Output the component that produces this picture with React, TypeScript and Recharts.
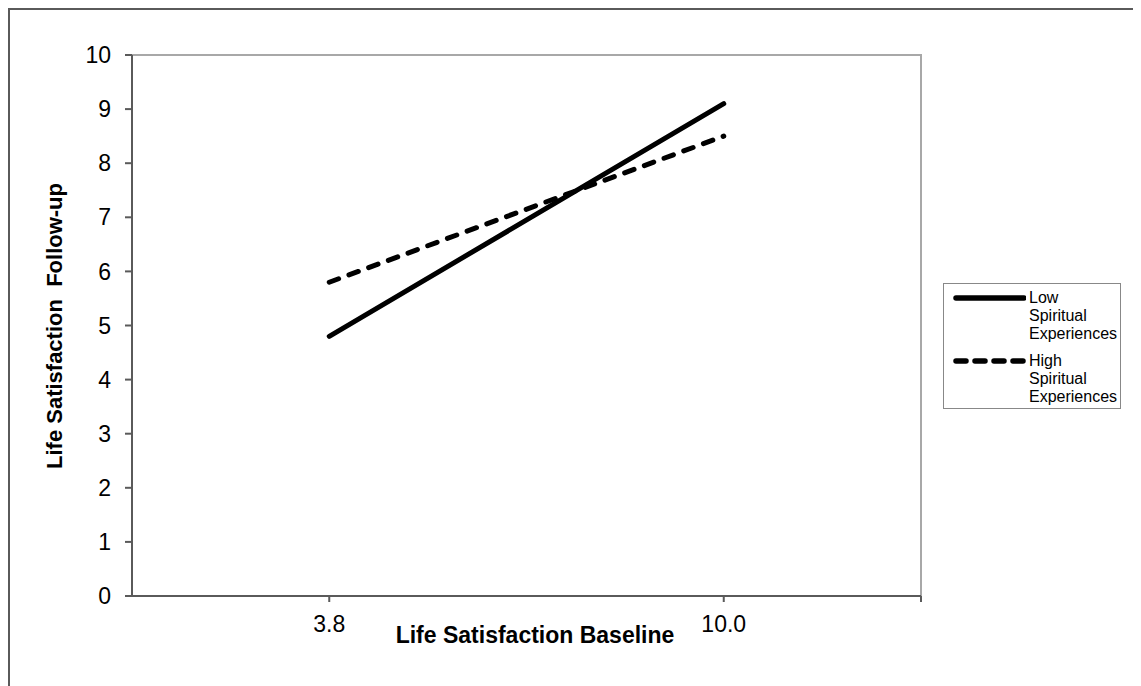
import { LineChart, Line, XAxis, YAxis, ReferenceArea } from "recharts";

const baseline = [3.8, 10.0];
const lowSpiritual = [4.8, 9.1];
const highSpiritual = [5.8, 8.5];
const yTicks = [0, 1, 2, 3, 4, 5, 6, 7, 8, 9, 10];
const xMin = 0.7;
const xMax = 13.1;

const data = baseline.map((b, i) => ({
  baseline: b,
  low: lowSpiritual[i],
  high: highSpiritual[i],
}));

const font = '"Liberation Sans", Arial, sans-serif';

function LegendBox() {
  const row = (dashed: boolean, lines: string[]) => (
    <div style={{ display: "flex", alignItems: "flex-start" }}>
      <svg width={80} height={18} style={{ flex: "none" }}>
        <line
          x1={10}
          y1={9}
          x2={78}
          y2={9}
          stroke="#000"
          strokeWidth={5.5}
          strokeLinecap="round"
          strokeDasharray={dashed ? "10 9" : undefined}
        />
      </svg>
      <div style={{ fontSize: 16, lineHeight: "18px", marginLeft: 3 }}>
        {lines.map((l) => (
          <div key={l}>{l}</div>
        ))}
      </div>
    </div>
  );
  return (
    <div
      style={{
        position: "absolute",
        left: 935,
        top: 275,
        width: 178,
        height: 126,
        border: "1px solid #888",
        boxSizing: "border-box",
        background: "#fff",
        fontFamily: font,
        paddingTop: 5,
        paddingLeft: 2,
      }}
    >
      {row(false, ["Low", "Spiritual", "Experiences"])}
      <div style={{ height: 9 }} />
      {row(true, ["High", "Spiritual", "Experiences"])}
    </div>
  );
}

export default function App() {
  return (
    <div
      style={{
        position: "relative",
        width: 1133,
        height: 678,
        fontFamily: font,
      }}
    >
      <div style={{ position: "absolute", left: 2, top: 0 }}>
        <LineChart
          width={1120}
          height={670}
          data={data}
          margin={{ top: 47, right: 209, bottom: 42, left: 22 }}
        >
          <ReferenceArea
            x1={xMin}
            x2={xMax}
            y1={0}
            y2={10}
            fill="none"
            stroke="#a8a8a8"
            strokeWidth={2}
          />
          <XAxis
            type="number"
            dataKey="baseline"
            domain={[xMin, xMax]}
            ticks={[...baseline, xMax]}
            tickFormatter={(v: number) => (v === xMax ? "" : v.toFixed(1))}
            height={40}
            stroke="#5a5a5a"
            strokeWidth={2}
            tickSize={6}
            tickMargin={14}
            tick={{ fill: "#000", fontSize: 23, fontFamily: font }}
            allowDataOverflow
          />
          <YAxis
            domain={[0, 10]}
            ticks={yTicks}
            width={100}
            stroke="#5a5a5a"
            strokeWidth={2}
            tickSize={7}
            tickMargin={14}
            tick={{ fill: "#000", fontSize: 23, fontFamily: font }}
            interval={0}
          />
          <Line
            dataKey="low"
            stroke="#000"
            strokeWidth={5}
            strokeLinecap="round"
            dot={false}
            isAnimationActive={false}
          />
          <Line
            dataKey="high"
            stroke="#000"
            strokeWidth={5}
            strokeLinecap="round"
            strokeDasharray="10 11"
            dot={false}
            isAnimationActive={false}
          />
        </LineChart>
      </div>
      <div
        style={{
          position: "absolute",
          left: 0,
          top: 0,
          width: 1133,
          height: 2,
          background: "#5a5a5a",
        }}
      />
      <div
        style={{
          position: "absolute",
          left: 0,
          top: 0,
          width: 2,
          height: 680,
          background: "#5a5a5a",
        }}
      />
      <div
        style={{
          position: "absolute",
          left: 527,
          top: 627,
          transform: "translate(-50%, -50%)",
          fontSize: 23,
          fontWeight: "bold",
          whiteSpace: "nowrap",
        }}
      >
        Life Satisfaction Baseline
      </div>
      <div
        style={{
          position: "absolute",
          left: 47,
          top: 318,
          transform: "translate(-50%, -50%) rotate(-90deg)",
          fontSize: 22,
          fontWeight: "bold",
          whiteSpace: "pre",
        }}
      >
        {"Life Satisfaction  Follow-up"}
      </div>
      <LegendBox />
    </div>
  );
}
